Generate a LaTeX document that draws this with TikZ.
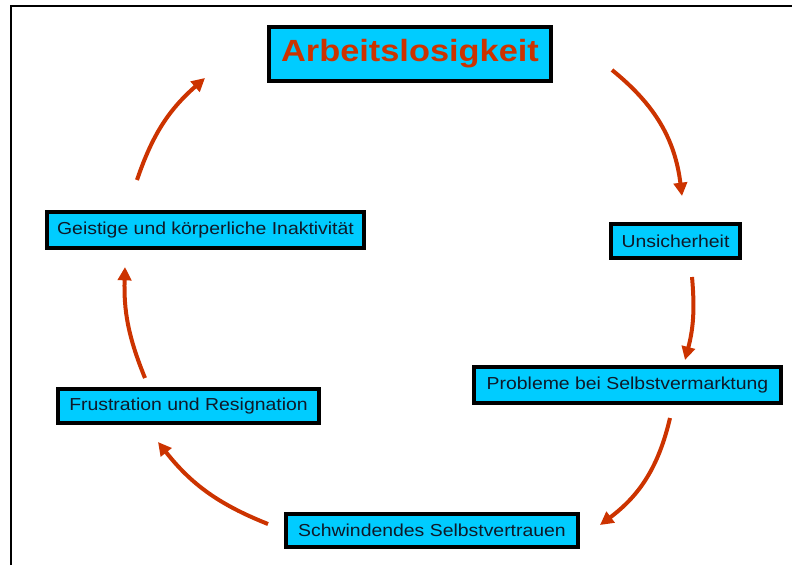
\documentclass[tikz,border=0pt]{standalone}
\usepackage{fontspec}
\setmainfont{Liberation Sans}[FakeStretch=1.12]
\usetikzlibrary{arrows.meta}
\definecolor{boxcyan}{RGB}{0,204,255}
\definecolor{arrowred}{RGB}{204,51,0}
\definecolor{textdark}{RGB}{15,25,40}
\begin{document}
\begin{tikzpicture}[x=0.75pt,y=0.75pt,
  stepbox/.style={draw=black,line width=3.2pt,fill=boxcyan,inner sep=0pt,
    text=textdark,font=\fontsize{13}{15}\selectfont},
  cyc/.style={draw=arrowred,line width=3pt,
    -{Triangle[length=10pt,width=10pt]}}]
\useasboundingbox (0,0) rectangle (792,-565);
\draw[line width=1.6pt] (11,-565) -- (11,-6) -- (792,-6);
\node[stepbox,minimum width=211.5pt,minimum height=40.5pt,text=arrowred,
  font=\fontsize{23}{27}\selectfont\bfseries] (arb) at (410,-54) {Arbeitslosigkeit};
\node[stepbox,minimum width=96.75pt,minimum height=25.5pt] (uns) at (675.5,-241) {Unsicherheit};
\node[stepbox,minimum width=230.25pt,minimum height=27pt] (pro) at (627.5,-385) {Probleme bei Selbstvermarktung};
\node[stepbox,minimum width=219pt,minimum height=24.75pt] (sch) at (432,-530.5) {Schwindendes Selbstvertrauen};
\node[stepbox,minimum width=195.75pt,minimum height=25.5pt] (fru) at (188.5,-406) {Frustration und Resignation};
\node[stepbox,minimum width=237.75pt,minimum height=27pt] (gei) at (205.5,-230) {Geistige und körperliche Inaktivität};
\coordinate (a1s) at (612,-70);  \coordinate (a1e) at (682,-196);
\coordinate (a2s) at (692,-277); \coordinate (a2e) at (685,-360);
\coordinate (a3s) at (670,-418); \coordinate (a3e) at (600,-525);
\coordinate (a4s) at (268,-524); \coordinate (a4e) at (158,-442);
\coordinate (a5s) at (145,-378); \coordinate (a5e) at (125,-267);
\coordinate (a6s) at (137,-180); \coordinate (a6e) at (205,-78);
\draw[cyc] (a1s) to[bend left=22] (a1e);
\draw[cyc] (a2s) to[bend left=10] (a2e);
\draw[cyc] (a3s) to[bend left=20] (a3e);
\draw[cyc] (a4s) to[bend left=15] (a4e);
\draw[cyc] (a5s) to[bend left=12] (a5e);
\draw[cyc] (a6s) to[bend left=15] (a6e);
\end{tikzpicture}
\end{document}
